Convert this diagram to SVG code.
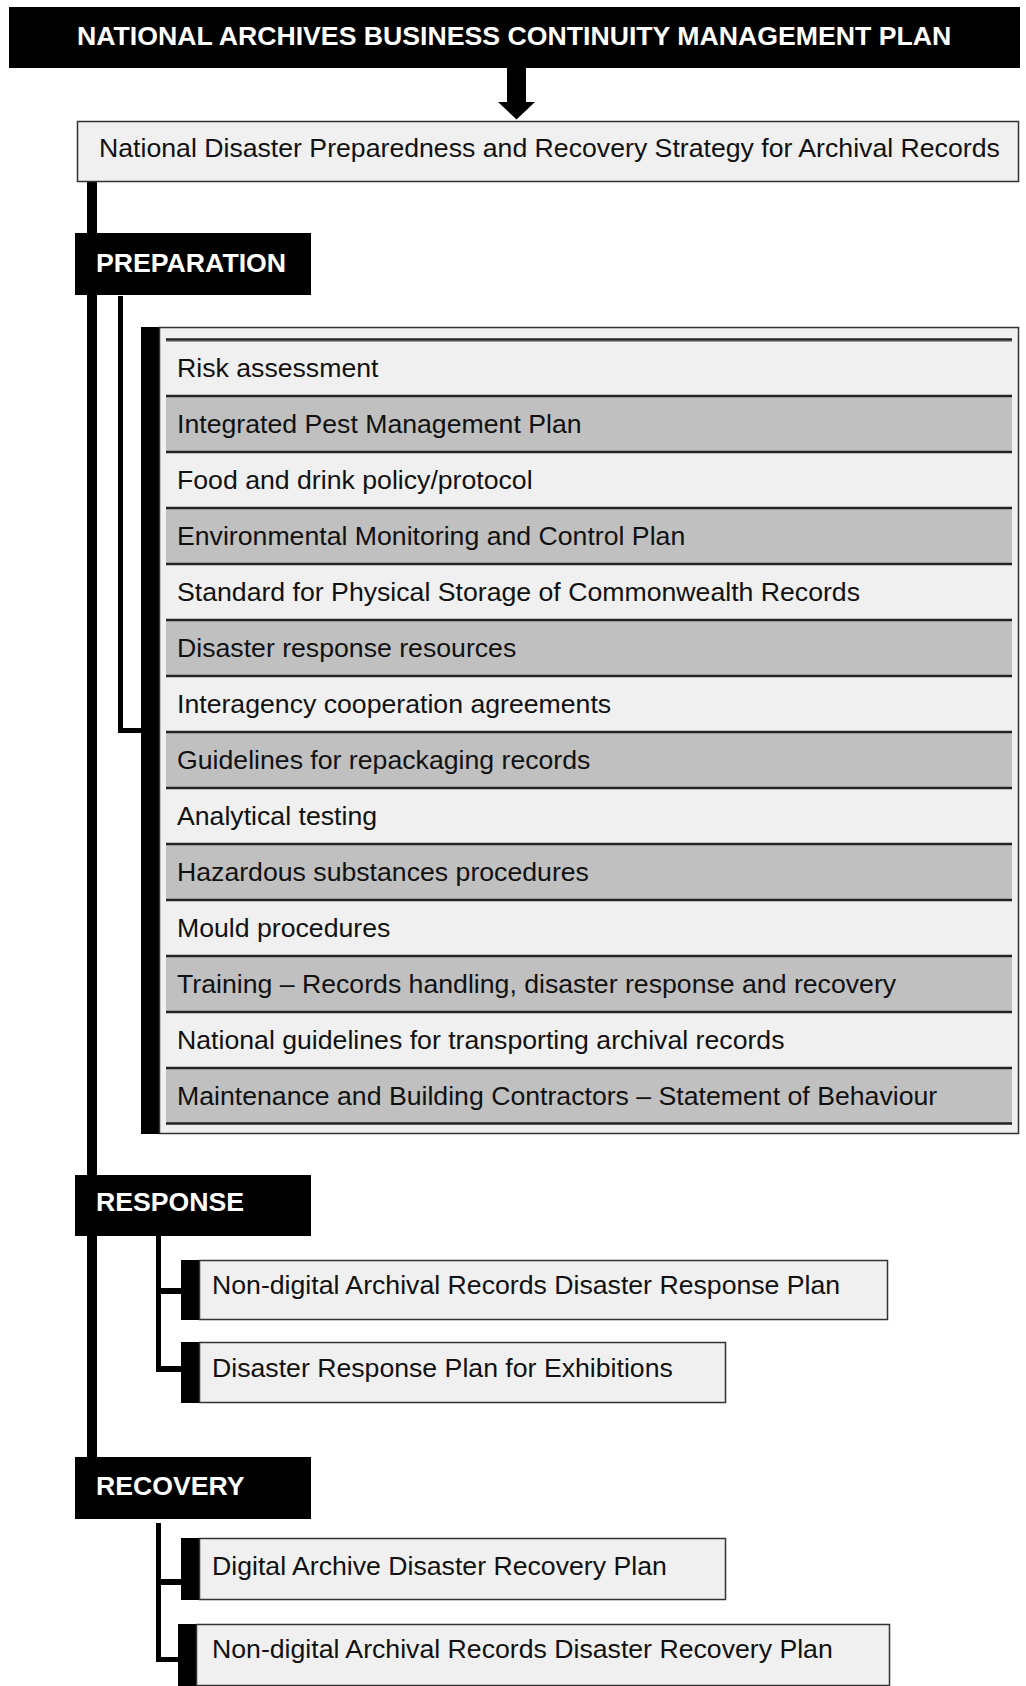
<svg xmlns="http://www.w3.org/2000/svg" width="1026" height="1686" viewBox="0 0 1026 1686">
  <style>
    .txt { font-family: "Liberation Sans", Arial, sans-serif; font-size: 26.67px; fill: #111; }
    .head { font-family: "Liberation Sans", Arial, sans-serif; font-size: 26.67px; font-weight: bold; fill: #fff; }
    .blk { fill: #000; }
    .box { fill: #f0f0f0; stroke: #333; stroke-width: 1.5; }
    .light { fill: #f0f0f0; }
    .grey { fill: #c0c0c0; }
    .sep { stroke: #222; stroke-width: 2.5; }
    .sep2 { stroke: #9a9a9a; stroke-width: 1; }
    .wire { fill: #000; }
  </style>

  <rect width="1026" height="1686" fill="#fff"/>

  <!-- connectors: spine, branch lines and top arrow -->
  <g id="connectors">
    <!-- arrow from plan to strategy -->
    <rect class="wire" x="507" y="67" width="19" height="36"/>
    <polygon class="wire" points="498,102 535,102 516.5,119.5"/>
    <!-- main spine -->
    <rect class="wire" x="87" y="182" width="10" height="1276"/>
    <!-- preparation branch -->
    <rect class="wire" x="118" y="296" width="5" height="437"/>
    <rect class="wire" x="118" y="728" width="24" height="5"/>
    <!-- response branches -->
    <rect class="wire" x="156" y="1236" width="5" height="136"/>
    <rect class="wire" x="156" y="1288" width="26" height="6"/>
    <rect class="wire" x="156" y="1366" width="26" height="6"/>
    <!-- recovery branches -->
    <rect class="wire" x="156" y="1523" width="5" height="139"/>
    <rect class="wire" x="156" y="1579" width="26" height="6"/>
    <rect class="wire" x="156" y="1657" width="23" height="5"/>
  </g>

  <g id="plan">
    <rect class="blk" x="9" y="7" width="1011" height="61"/>
    <text class="head" x="77" y="45">NATIONAL ARCHIVES BUSINESS CONTINUITY MANAGEMENT PLAN</text>
  </g>

  <g id="strategy">
    <rect class="box" x="77.5" y="121.5" width="941" height="60"/>
    <text class="txt" x="99" y="157">National Disaster Preparedness and Recovery Strategy for Archival Records</text>
  </g>

  <g id="preparation">
    <rect class="blk" x="75" y="233" width="236" height="62"/>
    <text class="head" x="96" y="272">PREPARATION</text>
  </g>

  <g id="preparation-list">
    <rect class="blk" x="141" y="327" width="19" height="807"/>
    <rect class="box" x="159.5" y="327.5" width="859" height="806"/>
    <rect class="light" x="166" y="340" width="846" height="56"/>
    <rect class="grey" x="166" y="396" width="846" height="56"/>
    <rect class="light" x="166" y="452" width="846" height="56"/>
    <rect class="grey" x="166" y="508" width="846" height="56"/>
    <rect class="light" x="166" y="564" width="846" height="56"/>
    <rect class="grey" x="166" y="620" width="846" height="56"/>
    <rect class="light" x="166" y="676" width="846" height="56"/>
    <rect class="grey" x="166" y="732" width="846" height="56"/>
    <rect class="light" x="166" y="788" width="846" height="56"/>
    <rect class="grey" x="166" y="844" width="846" height="56"/>
    <rect class="light" x="166" y="900" width="846" height="56"/>
    <rect class="grey" x="166" y="956" width="846" height="56"/>
    <rect class="light" x="166" y="1012" width="846" height="56"/>
    <rect class="grey" x="166" y="1068" width="846" height="56"/>
    <g>
      <line class="sep2" x1="166" y1="341.5" x2="1012" y2="341.5"/>
      <line class="sep" x1="166" y1="339.5" x2="1012" y2="339.5"/>
      <line class="sep" x1="166" y1="396" x2="1012" y2="396"/>
      <line class="sep" x1="166" y1="452" x2="1012" y2="452"/>
      <line class="sep" x1="166" y1="508" x2="1012" y2="508"/>
      <line class="sep" x1="166" y1="564" x2="1012" y2="564"/>
      <line class="sep" x1="166" y1="620" x2="1012" y2="620"/>
      <line class="sep" x1="166" y1="676" x2="1012" y2="676"/>
      <line class="sep" x1="166" y1="732" x2="1012" y2="732"/>
      <line class="sep" x1="166" y1="788" x2="1012" y2="788"/>
      <line class="sep" x1="166" y1="844" x2="1012" y2="844"/>
      <line class="sep" x1="166" y1="900" x2="1012" y2="900"/>
      <line class="sep" x1="166" y1="956" x2="1012" y2="956"/>
      <line class="sep" x1="166" y1="1012" x2="1012" y2="1012"/>
      <line class="sep" x1="166" y1="1068" x2="1012" y2="1068"/>
      <line class="sep" x1="166" y1="1123.5" x2="1012" y2="1123.5"/>
    </g>
    <text class="txt" x="177" y="377">Risk assessment</text>
    <text class="txt" x="177" y="433">Integrated Pest Management Plan</text>
    <text class="txt" x="177" y="489">Food and drink policy/protocol</text>
    <text class="txt" x="177" y="545">Environmental Monitoring and Control Plan</text>
    <text class="txt" x="177" y="601">Standard for Physical Storage of Commonwealth Records</text>
    <text class="txt" x="177" y="657">Disaster response resources</text>
    <text class="txt" x="177" y="713">Interagency cooperation agreements</text>
    <text class="txt" x="177" y="769">Guidelines for repackaging records</text>
    <text class="txt" x="177" y="825">Analytical testing</text>
    <text class="txt" x="177" y="881">Hazardous substances procedures</text>
    <text class="txt" x="177" y="937">Mould procedures</text>
    <text class="txt" x="177" y="993">Training – Records handling, disaster response and recovery</text>
    <text class="txt" x="177" y="1049">National guidelines for transporting archival records</text>
    <text class="txt" x="177" y="1105">Maintenance and Building Contractors – Statement of Behaviour</text>
  </g>

  <g id="response">
    <rect class="blk" x="75" y="1175" width="236" height="61"/>
    <text class="head" x="96" y="1211">RESPONSE</text>
  </g>

  <g id="response-plan">
    <rect class="blk" x="181" y="1260" width="19" height="60"/>
    <rect class="box" x="199.5" y="1260.5" width="688" height="59"/>
    <text class="txt" x="212" y="1294">Non-digital Archival Records Disaster Response Plan</text>
  </g>

  <g id="exhibitions-plan">
    <rect class="blk" x="181" y="1342" width="19" height="61"/>
    <rect class="box" x="199.5" y="1342.5" width="526" height="60"/>
    <text class="txt" x="212" y="1377">Disaster Response Plan for Exhibitions</text>
  </g>

  <g id="recovery">
    <rect class="blk" x="75" y="1457" width="236" height="62"/>
    <text class="head" x="96" y="1495">RECOVERY</text>
  </g>

  <g id="digital-recovery-plan">
    <rect class="blk" x="181" y="1538" width="19" height="62"/>
    <rect class="box" x="199.5" y="1538.5" width="526" height="61"/>
    <text class="txt" x="212" y="1575">Digital Archive Disaster Recovery Plan</text>
  </g>

  <g id="nondigital-recovery-plan">
    <rect class="blk" x="178" y="1624" width="19" height="62"/>
    <rect class="box" x="196.5" y="1624.5" width="693" height="61"/>
    <text class="txt" x="212" y="1658">Non-digital Archival Records Disaster Recovery Plan</text>
  </g>
</svg>
